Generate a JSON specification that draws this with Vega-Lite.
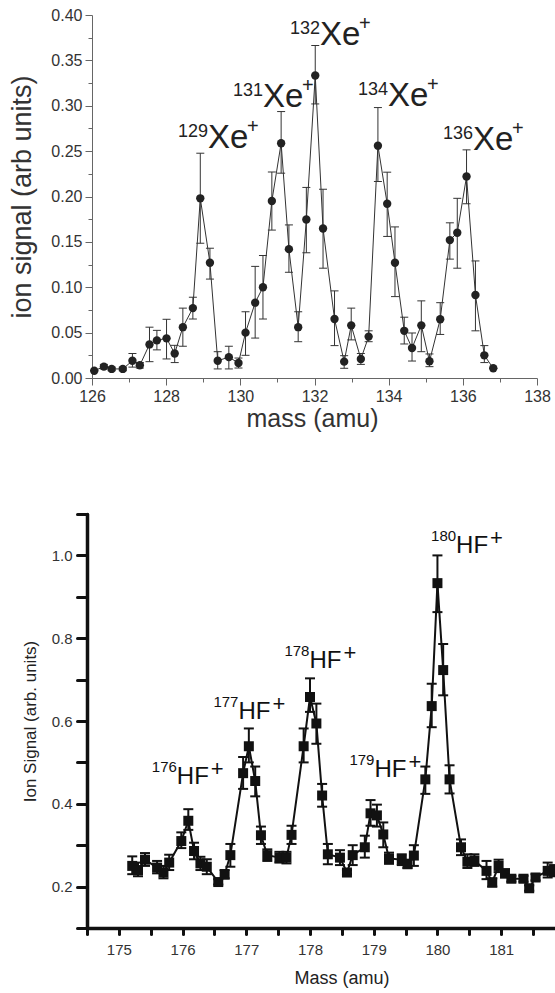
{
  "$schema": "https://vega.github.io/schema/vega-lite/v6.json",
  "padding": {"left": 8, "top": 7, "right": 0, "bottom": 4},
  "background": "white",
  "spacing": 76,
  "config": {"view": {"stroke": null}, "font": "Liberation Sans"},
  "datasets": {
    "xe": [
      {"mass": 126.06, "signal": 0.008, "lo": 0.008, "hi": 0.008},
      {"mass": 126.32, "signal": 0.0125, "lo": 0.010, "hi": 0.015},
      {"mass": 126.53, "signal": 0.010, "lo": 0.008, "hi": 0.012},
      {"mass": 126.83, "signal": 0.010, "lo": 0.008, "hi": 0.012},
      {"mass": 127.09, "signal": 0.019, "lo": 0.012, "hi": 0.027},
      {"mass": 127.29, "signal": 0.014, "lo": 0.011, "hi": 0.017},
      {"mass": 127.55, "signal": 0.037, "lo": 0.018, "hi": 0.056},
      {"mass": 127.75, "signal": 0.0415, "lo": 0.031, "hi": 0.0525},
      {"mass": 128.01, "signal": 0.0437, "lo": 0.021, "hi": 0.0647},
      {"mass": 128.23, "signal": 0.027, "lo": 0.017, "hi": 0.036},
      {"mass": 128.45, "signal": 0.056, "lo": 0.035, "hi": 0.077},
      {"mass": 128.72, "signal": 0.077, "lo": 0.065, "hi": 0.089},
      {"mass": 128.92, "signal": 0.198, "lo": 0.1485, "hi": 0.2477},
      {"mass": 129.18, "signal": 0.127, "lo": 0.109, "hi": 0.143},
      {"mass": 129.39, "signal": 0.019, "lo": 0.010, "hi": 0.029},
      {"mass": 129.69, "signal": 0.023, "lo": 0.010, "hi": 0.035},
      {"mass": 129.95, "signal": 0.0165, "lo": 0.011, "hi": 0.022},
      {"mass": 130.14, "signal": 0.050, "lo": 0.025, "hi": 0.073},
      {"mass": 130.40, "signal": 0.083, "lo": 0.044, "hi": 0.123},
      {"mass": 130.61, "signal": 0.100, "lo": 0.065, "hi": 0.135},
      {"mass": 130.85, "signal": 0.195, "lo": 0.163, "hi": 0.227},
      {"mass": 131.10, "signal": 0.2587, "lo": 0.2257, "hi": 0.2936},
      {"mass": 131.31, "signal": 0.142, "lo": 0.1165, "hi": 0.1687},
      {"mass": 131.56, "signal": 0.056, "lo": 0.040, "hi": 0.073},
      {"mass": 131.78, "signal": 0.1746, "lo": 0.138, "hi": 0.210},
      {"mass": 132.02, "signal": 0.3333, "lo": 0.302, "hi": 0.3664},
      {"mass": 132.23, "signal": 0.1647, "lo": 0.121, "hi": 0.208},
      {"mass": 132.54, "signal": 0.065, "lo": 0.0357, "hi": 0.096},
      {"mass": 132.80, "signal": 0.018, "lo": 0.0107, "hi": 0.0246},
      {"mass": 132.99, "signal": 0.058, "lo": 0.042, "hi": 0.077},
      {"mass": 133.25, "signal": 0.021, "lo": 0.015, "hi": 0.027},
      {"mass": 133.46, "signal": 0.0456, "lo": 0.040, "hi": 0.052},
      {"mass": 133.71, "signal": 0.256, "lo": 0.2165, "hi": 0.298},
      {"mass": 133.96, "signal": 0.192, "lo": 0.156, "hi": 0.2268},
      {"mass": 134.17, "signal": 0.127, "lo": 0.0897, "hi": 0.1665},
      {"mass": 134.42, "signal": 0.052, "lo": 0.0375, "hi": 0.067},
      {"mass": 134.63, "signal": 0.033, "lo": 0.0187, "hi": 0.0496},
      {"mass": 134.88, "signal": 0.058, "lo": 0.029, "hi": 0.085},
      {"mass": 135.10, "signal": 0.0184, "lo": 0.0125, "hi": 0.0265},
      {"mass": 135.39, "signal": 0.0647, "lo": 0.048, "hi": 0.083},
      {"mass": 135.65, "signal": 0.152, "lo": 0.131, "hi": 0.171},
      {"mass": 135.85, "signal": 0.160, "lo": 0.121, "hi": 0.198},
      {"mass": 136.10, "signal": 0.222, "lo": 0.192, "hi": 0.2514},
      {"mass": 136.34, "signal": 0.0915, "lo": 0.052, "hi": 0.129},
      {"mass": 136.58, "signal": 0.025, "lo": 0.017, "hi": 0.0357},
      {"mass": 136.82, "signal": 0.0107, "lo": 0.0107, "hi": 0.0107}
    ],
    "xelab": [
      {"mass": 129.128, "signal": 0.2536, "iso": "129"},
      {"mass": 130.612, "signal": 0.2991, "iso": "131"},
      {"mass": 132.149, "signal": 0.3671, "iso": "132"},
      {"mass": 133.983, "signal": 0.2999, "iso": "134"},
      {"mass": 136.275, "signal": 0.2514, "iso": "136"}
    ],
    "hf": [
      {"mass": 175.21, "signal": 0.250, "lo": 0.230, "hi": 0.273},
      {"mass": 175.30, "signal": 0.240, "lo": 0.225, "hi": 0.258},
      {"mass": 175.41, "signal": 0.265, "lo": 0.250, "hi": 0.281},
      {"mass": 175.60, "signal": 0.246, "lo": 0.232, "hi": 0.262},
      {"mass": 175.70, "signal": 0.234, "lo": 0.220, "hi": 0.250},
      {"mass": 175.79, "signal": 0.258, "lo": 0.240, "hi": 0.277},
      {"mass": 175.98, "signal": 0.310, "lo": 0.293, "hi": 0.331},
      {"mass": 176.09, "signal": 0.359, "lo": 0.337, "hi": 0.387},
      {"mass": 176.18, "signal": 0.286, "lo": 0.266, "hi": 0.306},
      {"mass": 176.28, "signal": 0.256, "lo": 0.240, "hi": 0.272},
      {"mass": 176.38, "signal": 0.248, "lo": 0.230, "hi": 0.266},
      {"mass": 176.56, "signal": 0.211, "lo": 0.205, "hi": 0.218},
      {"mass": 176.66, "signal": 0.229, "lo": 0.220, "hi": 0.240},
      {"mass": 176.75, "signal": 0.276, "lo": 0.248, "hi": 0.303},
      {"mass": 176.95, "signal": 0.474, "lo": 0.436, "hi": 0.513},
      {"mass": 177.04, "signal": 0.539, "lo": 0.500, "hi": 0.582},
      {"mass": 177.14, "signal": 0.455, "lo": 0.418, "hi": 0.490},
      {"mass": 177.23, "signal": 0.324, "lo": 0.303, "hi": 0.345},
      {"mass": 177.33, "signal": 0.276, "lo": 0.262, "hi": 0.290},
      {"mass": 177.52, "signal": 0.270, "lo": 0.258, "hi": 0.284},
      {"mass": 177.63, "signal": 0.270, "lo": 0.256, "hi": 0.284},
      {"mass": 177.71, "signal": 0.325, "lo": 0.303, "hi": 0.347},
      {"mass": 177.90, "signal": 0.539, "lo": 0.500, "hi": 0.582},
      {"mass": 178.00, "signal": 0.658, "lo": 0.622, "hi": 0.703},
      {"mass": 178.10, "signal": 0.594, "lo": 0.545, "hi": 0.642},
      {"mass": 178.19, "signal": 0.420, "lo": 0.393, "hi": 0.448},
      {"mass": 178.28, "signal": 0.278, "lo": 0.254, "hi": 0.303},
      {"mass": 178.47, "signal": 0.270, "lo": 0.252, "hi": 0.288},
      {"mass": 178.58, "signal": 0.234, "lo": 0.230, "hi": 0.240},
      {"mass": 178.67, "signal": 0.276, "lo": 0.252, "hi": 0.300},
      {"mass": 178.86, "signal": 0.295, "lo": 0.270, "hi": 0.323},
      {"mass": 178.95, "signal": 0.377, "lo": 0.347, "hi": 0.409},
      {"mass": 179.05, "signal": 0.372, "lo": 0.345, "hi": 0.398},
      {"mass": 179.15, "signal": 0.326, "lo": 0.295, "hi": 0.355},
      {"mass": 179.24, "signal": 0.268, "lo": 0.255, "hi": 0.282},
      {"mass": 179.44, "signal": 0.265, "lo": 0.252, "hi": 0.278},
      {"mass": 179.53, "signal": 0.254, "lo": 0.245, "hi": 0.265},
      {"mass": 179.63, "signal": 0.275, "lo": 0.250, "hi": 0.300},
      {"mass": 179.81, "signal": 0.459, "lo": 0.424, "hi": 0.490},
      {"mass": 179.91, "signal": 0.636, "lo": 0.585, "hi": 0.690},
      {"mass": 180.00, "signal": 0.933, "lo": 0.863, "hi": 1.000},
      {"mass": 180.09, "signal": 0.723, "lo": 0.662, "hi": 0.786},
      {"mass": 180.19, "signal": 0.459, "lo": 0.425, "hi": 0.493},
      {"mass": 180.37, "signal": 0.295, "lo": 0.276, "hi": 0.314},
      {"mass": 180.47, "signal": 0.260, "lo": 0.245, "hi": 0.278},
      {"mass": 180.58, "signal": 0.263, "lo": 0.250, "hi": 0.278},
      {"mass": 180.77, "signal": 0.238, "lo": 0.218, "hi": 0.262},
      {"mass": 180.86, "signal": 0.210, "lo": 0.200, "hi": 0.220},
      {"mass": 180.96, "signal": 0.250, "lo": 0.235, "hi": 0.265},
      {"mass": 181.06, "signal": 0.232, "lo": 0.222, "hi": 0.242},
      {"mass": 181.16, "signal": 0.219, "lo": 0.212, "hi": 0.226},
      {"mass": 181.35, "signal": 0.219, "lo": 0.212, "hi": 0.226},
      {"mass": 181.44, "signal": 0.196, "lo": 0.190, "hi": 0.203},
      {"mass": 181.54, "signal": 0.222, "lo": 0.215, "hi": 0.230},
      {"mass": 181.73, "signal": 0.238, "lo": 0.222, "hi": 0.258},
      {"mass": 181.83, "signal": 0.238, "lo": 0.225, "hi": 0.252}
    ],
    "hflab": [
      {"mass": 175.910, "signal": 0.4482, "iso": "176"},
      {"mass": 176.877, "signal": 0.6058, "iso": "177"},
      {"mass": 177.991, "signal": 0.7270, "iso": "178"},
      {"mass": 179.011, "signal": 0.4642, "iso": "179"},
      {"mass": 180.293, "signal": 1.0058, "iso": "180"}
    ]
  },
  "vconcat": [
    {
      "width": 450,
      "height": 363,
      "encoding": {
        "x": {"field": "mass", "type": "quantitative",
          "scale": {"domain": [125.865, 138], "nice": false, "zero": false},
          "axis": {
            "values": [126, 127, 128, 129, 130, 131, 132, 133, 134, 135, 136, 137, 138],
            "labelExpr": "datum.value % 2 == 0 ? format(datum.value, 'd') : ''",
            "tickSize": {"condition": {"test": "datum.value % 2 == 0", "value": 7}, "value": 4},
            "grid": false, "domainColor": "#666", "tickColor": "#666",
            "labelColor": "#333", "labelFontSize": 16,
            "labelPadding": 3, "labelOverlap": false, "labelFlush": false, "labelBound": false,
            "title": "mass (amu)", "titleFontSize": 25,
            "titleFontWeight": "normal", "titleColor": "#333", "titlePadding": 2
          }
        },
        "y": {"field": "signal", "type": "quantitative",
          "scale": {"domain": [0, 0.4], "nice": false, "zero": false},
          "axis": {
            "values": [0, 0.025, 0.05, 0.075, 0.1, 0.125, 0.15, 0.175, 0.2, 0.225, 0.25, 0.275, 0.3, 0.325, 0.35, 0.375, 0.4],
            "labelExpr": "round(datum.value * 40) % 2 == 0 ? format(datum.value, '.2f') : ''",
            "tickSize": {"condition": {"test": "round(datum.value * 40) % 2 == 0", "value": 7}, "value": 4},
            "offset": -5,
            "grid": false, "domainColor": "#666", "tickColor": "#666",
            "labelColor": "#333", "labelFontSize": 16,
            "labelPadding": 3, "labelOverlap": false, "labelFlush": false, "labelBound": false,
            "title": "ion signal (arb units)", "titleFontSize": 27,
            "titleFontWeight": "normal", "titleColor": "#333", "titlePadding": 14
          }
        }
      },
      "layer": [
        {"data": {"name": "xe"}, "mark": {"type": "line", "color": "#333", "strokeWidth": 1}},
        {"data": {"name": "xe"}, "mark": {"type": "rule", "color": "#333", "strokeWidth": 1},
          "encoding": {"y": {"field": "lo", "type": "quantitative"}, "y2": {"field": "hi"}}},
        {"data": {"name": "xe"}, "mark": {"type": "tick", "orient": "horizontal", "size": 8, "thickness": 1, "color": "#333", "opacity": 1},
          "encoding": {"y": {"field": "lo", "type": "quantitative"}}},
        {"data": {"name": "xe"}, "mark": {"type": "tick", "orient": "horizontal", "size": 8, "thickness": 1, "color": "#333", "opacity": 1},
          "encoding": {"y": {"field": "hi", "type": "quantitative"}}},
        {"data": {"name": "xe"}, "mark": {"type": "point", "shape": "circle", "filled": true, "size": 70, "color": "#222", "opacity": 1}},
        {"data": {"name": "xelab"}, "mark": {"type": "text", "align": "right", "baseline": "alphabetic", "dy": -11, "fontSize": 18, "color": "#222"},
          "encoding": {"text": {"field": "iso"}}},
        {"data": {"name": "xelab"}, "mark": {"type": "text", "align": "left", "baseline": "alphabetic", "fontSize": 33, "color": "#222", "text": "Xe"}},
        {"data": {"name": "xelab"}, "mark": {"type": "text", "align": "left", "baseline": "alphabetic", "dx": 39, "dy": -15, "fontSize": 20, "color": "#222", "text": "+"}}
      ]
    },
    {
      "width": 468,
      "height": 414,
      "encoding": {
        "x": {"field": "mass", "type": "quantitative",
          "scale": {"domain": [174.5, 181.845], "nice": false, "zero": false},
          "axis": {
            "values": [174.5, 175, 175.5, 176, 176.5, 177, 177.5, 178, 178.5, 179, 179.5, 180, 180.5, 181, 181.5],
            "labelExpr": "datum.value % 1 == 0 ? format(datum.value, 'd') : ''",
            "tickSize": 6, "tickWidth": 3, "tickCap": "round", "domainWidth": 3.5, "domainCap": "round",
            "grid": false, "domainColor": "#111", "tickColor": "#111",
            "labelColor": "#333", "labelFontSize": 15, "labelPadding": 8,
            "labelOverlap": false, "labelFlush": false, "labelBound": false,
            "title": "Mass (amu)", "titleFontSize": 18, "titleFontWeight": "normal", "titleColor": "#222",
            "titlePadding": 12, "titleX": 254.5
          }
        },
        "y": {"field": "signal", "type": "quantitative",
          "scale": {"domain": [0.1, 1.1], "nice": false, "zero": false},
          "axis": {
            "values": [0.1, 0.2, 0.3, 0.4, 0.5, 0.6, 0.7, 0.8, 0.9, 1.0, 1.1],
            "labelExpr": "round(datum.value * 10) % 2 == 0 ? format(datum.value, '.1f') : ''",
            "tickSize": 10, "tickWidth": 3, "tickCap": "round", "domainWidth": 3.5, "domainCap": "round",
            "grid": false, "domainColor": "#111", "tickColor": "#111",
            "labelColor": "#333", "labelFontSize": 15, "labelPadding": 5,
            "labelOverlap": false, "labelFlush": false, "labelBound": false,
            "title": "Ion Signal (arb. units)", "titleFontSize": 17, "titleFontWeight": "normal", "titleColor": "#222",
            "titlePadding": 12
          }
        }
      },
      "layer": [
        {"data": {"name": "hf"}, "mark": {"type": "line", "color": "#111", "strokeWidth": 2, "clip": true}},
        {"data": {"name": "hf"}, "mark": {"type": "rule", "color": "#111", "strokeWidth": 2, "clip": true},
          "encoding": {"y": {"field": "lo", "type": "quantitative"}, "y2": {"field": "hi"}}},
        {"data": {"name": "hf"}, "mark": {"type": "tick", "orient": "horizontal", "size": 10, "thickness": 2, "color": "#111", "opacity": 1, "clip": true},
          "encoding": {"y": {"field": "lo", "type": "quantitative"}}},
        {"data": {"name": "hf"}, "mark": {"type": "tick", "orient": "horizontal", "size": 10, "thickness": 2, "color": "#111", "opacity": 1, "clip": true},
          "encoding": {"y": {"field": "hi", "type": "quantitative"}}},
        {"data": {"name": "hf"}, "mark": {"type": "square", "size": 100, "color": "#111", "opacity": 1, "clip": true}},
        {"data": {"name": "hflab"}, "mark": {"type": "text", "align": "right", "baseline": "alphabetic", "dy": -12, "fontSize": 15, "color": "#111"},
          "encoding": {"text": {"field": "iso"}}},
        {"data": {"name": "hflab"}, "mark": {"type": "text", "align": "left", "baseline": "alphabetic", "fontSize": 24, "color": "#111", "text": "HF"}},
        {"data": {"name": "hflab"}, "mark": {"type": "text", "align": "left", "baseline": "alphabetic", "dx": 34, "dy": -8, "fontSize": 22, "color": "#111", "text": "+"}}
      ]
    }
  ]
}
